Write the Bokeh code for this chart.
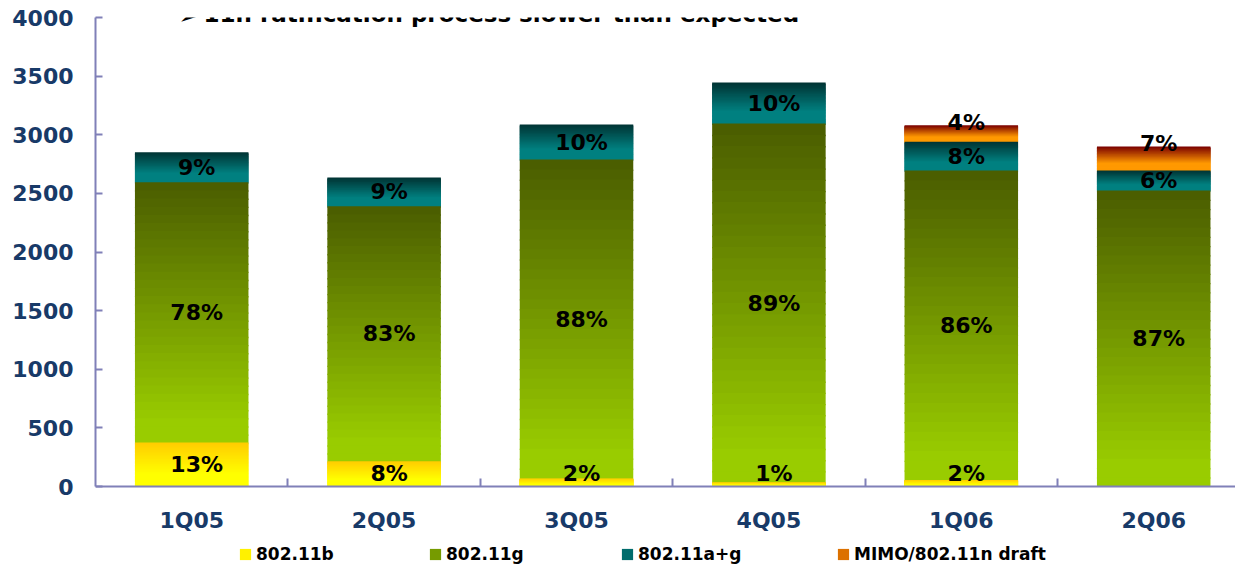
import numpy as np
from bokeh.plotting import figure
from bokeh.models import (Range1d, FixedTicker, ColumnDataSource, Legend, LegendItem, Label)
from bokeh.core.properties import value
from bokeh.embed import file_html
from bokeh.resources import INLINE

# ---------------- data ----------------
quarters = ["1Q05", "2Q05", "3Q05", "4Q05", "1Q06", "2Q06"]
b_vals = [375, 215, 68, 35, 55, 0]            # 802.11b
g_vals = [2220, 2175, 2720, 3060, 2640, 2525]  # 802.11g
ag_vals = [255, 245, 300, 350, 245, 170]       # 802.11a+g
mimo_vals = [0, 0, 0, 0, 140, 205]             # MIMO/802.11n draft

b_labels = ["13%", "8%", "2%", "1%", "2%", ""]
g_labels = ["78%", "83%", "88%", "89%", "86%", "87%"]
ag_labels = ["9%", "9%", "10%", "10%", "8%", "6%"]
mimo_labels = ["", "", "", "", "4%", "7%"]

series_names = ["802.11b", "802.11g", "802.11a+g", "MIMO/802.11n draft"]
title_text = "11n ratification process slower than expected"
y_ticks = [0, 500, 1000, 1500, 2000, 2500, 3000, 3500, 4000]
Y_MAX = 4000

# ---------------- styles ----------------
FONT = "DejaVu Sans"
AXIS_COLOR = "#8080B8"
TICK_LABEL_COLOR = "#183A68"
BAR_W = 0.59
N_SLICES = 32
OVERLAP = 12  # each slice reaches a little under the next one, hiding seams
STOPS = [
    [(0.0, "#FFCC00"), (0.72, "#FFFF00"), (1.0, "#FFFF00")],   # b
    [(0.0, "#4A5C00"), (0.92, "#99CC00"), (1.0, "#99CC00")],   # g
    [(0.0, "#003333"), (0.70, "#008080"), (1.0, "#008080")],   # a+g
    [(0.0, "#7A0000"), (0.70, "#FF9900"), (1.0, "#FF9900")],   # mimo
]
LEGEND_X = [143, 333, 525, 741]
FRAME_PX = 469       # pixel height of 0..Y_MAX
BELOW_PX = 78        # room under the zero line for tick labels and legend


def hex2rgb(h):
    h = h.lstrip("#")
    return np.array([int(h[i:i + 2], 16) for i in (0, 2, 4)], dtype=float)


def grad(stops, t):
    for (t0, c0), (t1, c1) in zip(stops[:-1], stops[1:]):
        if t <= t1:
            f = 0 if t1 == t0 else (t - t0) / (t1 - t0)
            c = hex2rgb(c0) * (1 - f) + hex2rgb(c1) * f
            return "#%02x%02x%02x" % tuple(int(round(v)) for v in c)
    return stops[-1][1]


xs = np.arange(len(quarters)) + 0.5
series = [b_vals, g_vals, ag_vals, mimo_vals]

sources = []
for s, vals in enumerate(series):
    rows = []
    for i, x in enumerate(xs):
        v = vals[i]
        if v <= 0:
            continue
        base = sum(series[j][i] for j in range(s))
        hi = base + v
        for k in range(N_SLICES):
            top = hi - v * k / N_SLICES
            bot = max(0.0, hi - v * (k + 1) / N_SLICES - OVERLAP)
            rows.append((x - BAR_W / 2, x + BAR_W / 2, top, bot,
                         grad(STOPS[s], (k + 0.5) / N_SLICES), k))
    rows.sort(key=lambda r: -r[2])
    src = ColumnDataSource(dict(
        left=[r[0] for r in rows], right=[r[1] for r in rows],
        top=[r[2] for r in rows], bottom=[r[3] for r in rows], color=[r[4] for r in rows]))
    mid = [n for n, r in enumerate(rows) if r[5] == N_SLICES // 2]
    sources.append((src, mid[0] if mid else 0))

# labels
lx, ly, lt = [], [], []
mx, my, mt = [], [], []
for i, x in enumerate(xs):
    b, g, ag, m = b_vals[i], g_vals[i], ag_vals[i], mimo_vals[i]
    if b_labels[i]:
        lx.append(x); ly.append(max(b / 2, 110)); lt.append(b_labels[i])
    lx.append(x); ly.append(b + g / 2); lt.append(g_labels[i])
    lx.append(x); ly.append(b + g + ag / 2); lt.append(ag_labels[i])
    if mimo_labels[i]:
        mx.append(x); my.append(b + g + ag + m); mt.append(mimo_labels[i])

# ---------------- figure ----------------
y_start = -Y_MAX * BELOW_PX / FRAME_PX
p = figure(width=1235, height=564, output_backend="svg", toolbar_location=None,
           x_range=Range1d(0, 1140 / 192.4), y_range=Range1d(y_start, Y_MAX),
           min_border_left=95, min_border_right=0, min_border_top=17, min_border_bottom=0)
p.outline_line_color = None
p.grid.visible = False
p.background_fill_color = "white"
p.border_fill_color = "white"

renderers = {}
for s in reversed(range(len(series))):   # upper series first, lower ones drawn over
    src, _ = sources[s]
    renderers[s] = p.quad(left="left", right="right", top="top", bottom="bottom", source=src,
                          fill_color="color", line_color=None)

p.text(x=lx, y=ly, text=lt, text_align="center", text_baseline="middle", x_offset=5,
       text_font=value(FONT), text_font_style="bold", text_font_size="22px", text_color="black")
p.text(x=mx, y=my, text=mt, text_align="center", text_baseline="middle", x_offset=5, y_offset=-3,
       text_font=value(FONT), text_font_style="bold", text_font_size="22px", text_color="black")

# axes
xa = p.xaxis[0]
xa.fixed_location = 0
xa.ticker = FixedTicker(ticks=list(xs), minor_ticks=list(np.arange(1, len(quarters))))
xa.major_label_overrides = {float(x): q for x, q in zip(xs, quarters)}
xa.major_tick_in = 0
xa.major_tick_out = 0
xa.minor_tick_in = 8
xa.minor_tick_out = 0
xa.minor_tick_line_color = AXIS_COLOR
xa.minor_tick_line_width = 2
xa.axis_line_color = AXIS_COLOR
xa.axis_line_width = 2
xa.major_label_standoff = 21
xa.major_label_text_font = FONT
xa.major_label_text_font_style = "bold"
xa.major_label_text_font_size = "22px"
xa.major_label_text_color = TICK_LABEL_COLOR

ya = p.yaxis[0]
ya.bounds = (0, Y_MAX)
ya.ticker = FixedTicker(ticks=y_ticks)
ya.major_tick_in = 7
ya.major_tick_out = 0
ya.minor_tick_in = 0
ya.minor_tick_out = 0
ya.major_tick_line_color = AXIS_COLOR
ya.major_tick_line_width = 2
ya.axis_line_color = AXIS_COLOR
ya.axis_line_width = 2
ya.major_label_standoff = 22
ya.major_label_text_font = FONT
ya.major_label_text_font_style = "bold"
ya.major_label_text_font_size = "22px"
ya.major_label_text_color = TICK_LABEL_COLOR

# legends (one per series so each sits where the reference has it)
for s, (name, lxp) in enumerate(zip(series_names, LEGEND_X)):
    lg = Legend(items=[LegendItem(label=name, renderers=[renderers[s]], index=sources[s][1])],
                location=(lxp, 0), orientation="horizontal", padding=0, margin=0, spacing=0,
                glyph_width=14, glyph_height=14, label_standoff=4, label_height=20,
                border_line_alpha=0, background_fill_alpha=0,
                label_text_font=FONT, label_text_font_style="bold",
                label_text_font_size="17px", label_text_color="black")
    p.add_layout(lg)

# title (partially clipped at top, as in the reference)
top_y = FRAME_PX + BELOW_PX
p.add_layout(Label(x=83, y=top_y + 2, x_units="screen", y_units="screen", text="➢",
                   text_font=FONT, text_font_size="24px", text_color="black",
                   text_baseline="alphabetic"))
p.add_layout(Label(x=108, y=top_y + 4, x_units="screen", y_units="screen", text=title_text,
                   text_font=FONT, text_font_style="bold", text_font_size="23px",
                   text_color="black", text_baseline="alphabetic"))

open("out.html", "w").write(file_html(p, INLINE))
